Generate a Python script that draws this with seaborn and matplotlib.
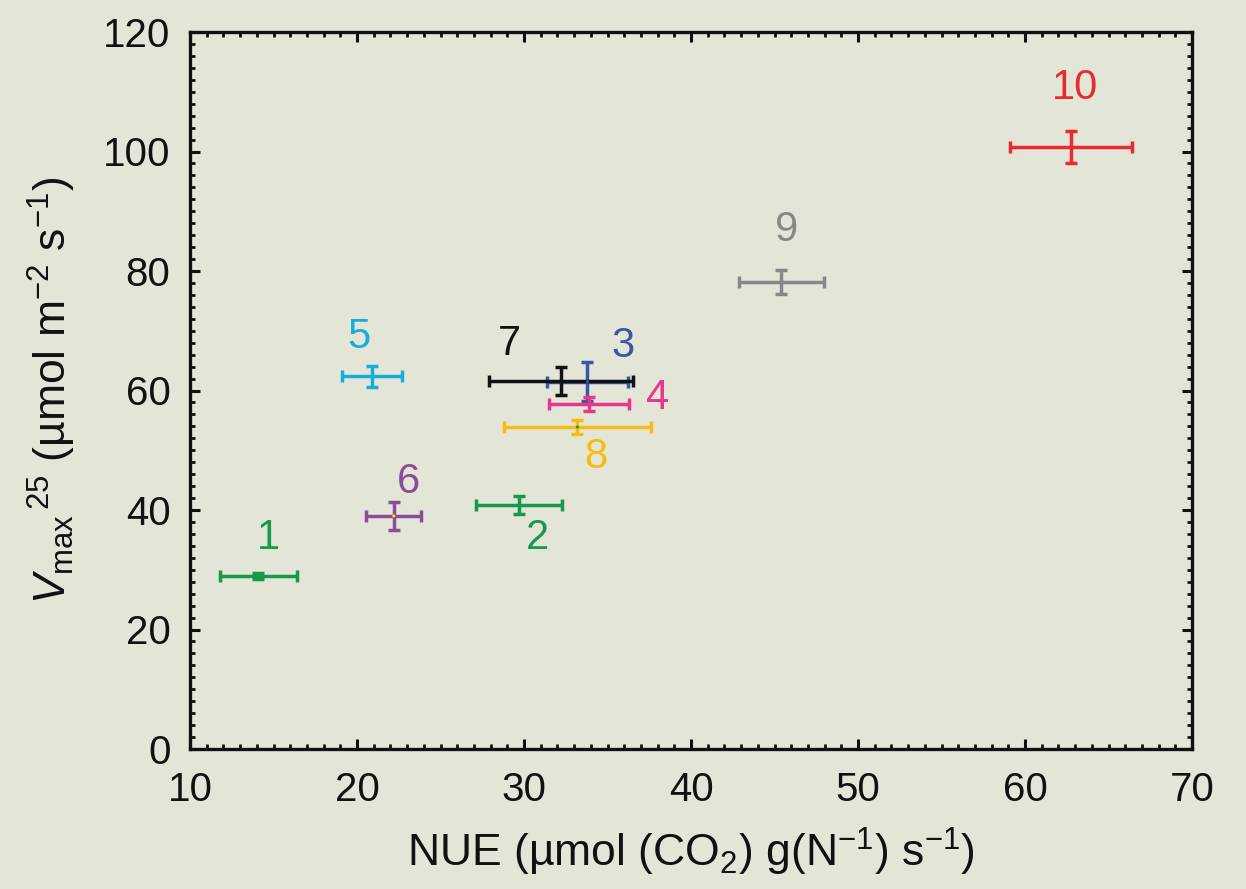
import matplotlib
matplotlib.use("Agg")
import matplotlib.pyplot as plt
from matplotlib.ticker import MultipleLocator
import seaborn as sns
import pandas as pd

# ---- data ----
labels = ["1", "2", "3", "4", "5", "6", "7", "8", "9", "10"]
nue = [14.1, 29.7, 33.8, 33.9, 20.9, 22.2, 32.2, 33.2, 45.4, 62.75]
nue_err = [2.3, 2.6, 2.4, 2.4, 1.8, 1.65, 4.3, 4.4, 2.55, 3.65]
vmax = [28.9, 40.9, 61.5, 57.7, 62.4, 39.0, 61.6, 53.9, 78.2, 100.75]
vmax_err = [0.5, 1.5, 3.2, 1.2, 1.75, 2.35, 2.3, 1.2, 2.0, 2.6]
label_x = [14.7, 30.8, 35.9, 38.0, 20.1, 23.1, 29.1, 34.3, 45.7, 63.0]
label_y = [35.3, 35.3, 67.4, 58.7, 69.0, 44.7, 67.7, 48.9, 86.8, 110.6]
colors = ["#16994a", "#16994a", "#3a56a6", "#e8368c", "#18aed8",
          "#8b4c9b", "#111111", "#f6bd10", "#878787", "#ea2a30"]
dot_colors = ["#16994a", "#16994a", "#3a56a6", "#e8368c", "#18aed8",
              "#f6e010", "#111111", "#16994a", "#878787", "#ea2a30"]

df = pd.DataFrame({"label": labels, "nue": nue, "vmax": vmax})

bg = "#e3e6d7"
sns.set_theme(style="ticks")
plt.rcParams["font.family"] = ["Liberation Sans", "DejaVu Sans"]
plt.rcParams["mathtext.fontset"] = "custom"
plt.rcParams["mathtext.rm"] = "Liberation Sans"
plt.rcParams["mathtext.it"] = "Liberation Sans:italic"
plt.rcParams["mathtext.bf"] = "Liberation Sans:bold"

FS = 29
fig = plt.figure(figsize=(12.46, 8.89), dpi=100, facecolor=bg)
ax = fig.add_axes([190 / 1246, 1 - 749 / 889, (1192 - 190) / 1246, (749 - 32) / 889])
ax.set_facecolor(bg)

for i in range(len(labels)):
    ax.errorbar(nue[i], vmax[i], xerr=nue_err[i], yerr=vmax_err[i],
                fmt="none", ecolor=colors[i], elinewidth=2.5,
                capsize=4.5, capthick=2.5, zorder=3)
    ax.text(label_x[i], label_y[i], labels[i], color=colors[i],
            fontsize=30, ha="center", va="center", zorder=4)

sns.scatterplot(data=df, x="nue", y="vmax", hue="label",
                palette=dict(zip(labels, dot_colors)), s=5,
                linewidth=0, legend=False, ax=ax, zorder=5)

ax.set_xlim(10, 70)
ax.set_ylim(0, 120)
ax.xaxis.set_major_locator(MultipleLocator(10))
ax.xaxis.set_minor_locator(MultipleLocator(1))
ax.yaxis.set_major_locator(MultipleLocator(20))
ax.yaxis.set_minor_locator(MultipleLocator(2))
ax.tick_params(which="both", direction="in", top=True, right=True,
               colors="#111111", labelsize=FS)
ax.tick_params(which="major", length=7, width=2.2)
ax.tick_params(which="minor", length=3.5, width=2.0)
ax.tick_params(axis="x", which="major", pad=16)
ax.tick_params(axis="y", which="major", pad=14)
for sp in ax.spines.values():
    sp.set_linewidth(2.4)
    sp.set_color("#111111")

ax.set_xlabel("NUE (µmol (CO$_2$) g(N$^{-1}$) s$^{-1}$)", fontsize=32,
              color="#111111", labelpad=12)
ax.set_ylabel(r"$V_{\mathrm{max}}{}^{\,25}$ (µmol m$^{-2}$ s$^{-1}$)", fontsize=32,
              color="#111111", labelpad=18)

fig.savefig("out.png", dpi=100, facecolor=bg)
